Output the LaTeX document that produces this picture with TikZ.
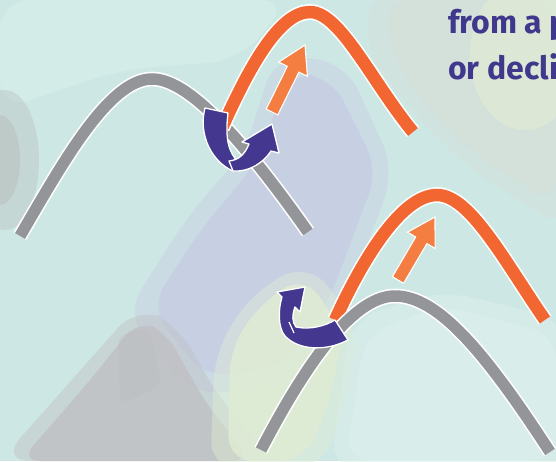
\documentclass[tikz,border=0pt]{standalone}
\usepackage{fontspec}
\setmainfont{Fira Sans}
\definecolor{bgteal}{RGB}{205,232,228}
\definecolor{bglight}{RGB}{213,237,233}
\definecolor{bglav}{RGB}{199,205,227}
\definecolor{bggray}{RGB}{192,192,196}
\definecolor{bggrayd}{RGB}{185,190,190}
\definecolor{bgyel}{RGB}{224,236,212}
\definecolor{bgtr}{RGB}{214,222,216}
\definecolor{bgpale}{RGB}{221,239,236}
\definecolor{grayband}{RGB}{147,149,152}
\definecolor{orangeband}{RGB}{242,102,49}
\definecolor{orangearrow}{RGB}{244,125,66}
\definecolor{purp}{RGB}{67,55,143}
\definecolor{txtpurp}{RGB}{64,56,140}
\tikzset{
  grayline/.style={draw=white, line width=1.6pt, double=grayband, double distance=11.5pt},
  orangeline/.style={draw=white, line width=1.6pt, double=orangeband, double distance=12.5pt},
  straightarrow/.style={fill=orangearrow, draw=white, line width=1.1pt, line join=miter},
  ribbon/.style={fill=purp, draw=white, line width=1.3pt, line join=round},
  caption/.style={anchor=base west, inner sep=0pt, text=txtpurp, font=\bfseries\fontsize{32}{32}\selectfont},
  soft/.style={opacity=0.45, rounded corners=30pt}
}
\begin{document}
\begin{tikzpicture}[x=1pt,y=-1pt]
\useasboundingbox (0,0) rectangle (556,461);
\clip (0,0) rectangle (556,461);
% background
\fill[bgteal] (0,0) rectangle (556,461);
\fill[bglight, opacity=0.8, rounded corners=30pt] (0,0) -- (290,0) -- (240,60) -- (120,70) -- (0,110) -- cycle;
\fill[bggrayd, opacity=0.4] (5,160) ellipse (34 and 70);
\fill[bggrayd, opacity=0.5] (0,160) ellipse (20 and 45);
% top right
\fill[bgtr, soft] (370,-10) -- (566,-10) -- (566,230) -- (470,170) -- (410,110) -- (365,50) -- cycle;
\fill[bgtr, opacity=0.6, rounded corners=25pt] (385,0) -- (556,0) -- (556,205) -- (475,155) -- (420,100) -- (390,50) -- cycle;
\fill[bgyel, opacity=0.7] (525,55) ellipse (55 and 75);
% lavender band
\fill[bglav, soft] (275,55) -- (345,62) -- (395,170) -- (345,305) -- (295,385) -- (190,395) -- (125,315) -- (185,220) -- (245,150) -- cycle;
\fill[bglav, opacity=0.75, rounded corners=25pt] (290,72) -- (332,78) -- (378,170) -- (330,298) -- (288,365) -- (205,378) -- (150,308) -- (200,230) -- (255,165) -- cycle;
% gray mountain
\fill[bggray, soft] (0,461) -- (85,365) -- (138,305) -- (178,325) -- (220,400) -- (275,461) -- cycle;
\fill[bggray, opacity=0.8, rounded corners=20pt] (20,461) -- (92,378) -- (138,320) -- (166,332) -- (205,402) -- (252,461) -- cycle;
\fill[bggrayd, opacity=0.35, rounded corners=10pt] (118,335) -- (150,328) -- (162,385) -- (120,405) -- cycle;
% yellow green
\fill[bgyel, soft] (215,350) -- (255,290) -- (310,262) -- (360,330) -- (345,410) -- (320,470) -- (210,470) -- cycle;
\fill[bgyel, opacity=0.8, rounded corners=25pt] (230,348) -- (262,302) -- (305,275) -- (343,332) -- (330,400) -- (305,461) -- (228,461) -- cycle;
% pale lower right
\fill[bgpale, soft] (350,320) -- (440,290) -- (566,320) -- (566,470) -- (330,470) -- cycle;
\fill[bgpale, opacity=0.6, rounded corners=25pt] (365,335) -- (440,305) -- (556,335) -- (556,461) -- (345,461) -- cycle;
% scene 1
\draw[grayline] (20,236) .. controls (60,168) and (108,79) .. (152,79) .. controls (186,79) and (236,130) .. (308,232);
\draw[orangeline] (222,128) .. controls (250,65) and (280,12) .. (310,12) .. controls (340,12) and (372,82) .. (413,132);
\filldraw[straightarrow] (266.2,109.1) -- (287.3,66.3) -- (278.7,62.1) -- (305,45) -- (307.4,76.3) -- (298.9,72.1) -- (277.8,114.9) -- cycle;
\filldraw[ribbon] (205,108) -- (228,113) .. controls (225,138) and (228,152) .. (239,163) -- (233,171) .. controls (212,162) and (198,135) .. (205,108) -- cycle;
\filldraw[ribbon] (229,161) -- (233,171) .. controls (250,172) and (264,162) .. (271,151) -- (279,153) -- (272,124) -- (242,142) -- (249,144) .. controls (245,154) and (239,160) .. (229,161) -- cycle;
% scene 2
\draw[orangeline] (335,320) .. controls (360,265) and (400,195) .. (437,195) .. controls (470,195) and (505,262) .. (545,320);
\draw[grayline] (261,450) .. controls (300,375) and (350,296) .. (395,296) .. controls (438,296) and (485,352) .. (550,452);
\filldraw[straightarrow] (392.4,276.7) -- (415.7,237.0) -- (407.5,232.2) -- (435,217) -- (435.1,248.4) -- (426.9,243.6) -- (403.6,283.3) -- cycle;
\filldraw[ribbon] (335,320) -- (348,340) .. controls (325,352) and (298,350) .. (285,336) .. controls (278,328) and (278,310) .. (282,297) -- (277,292) -- (305,287) -- (300,312) -- (295,307) .. controls (292,315) and (292,322) .. (296,327) .. controls (310,330) and (325,326) .. (335,320) -- cycle;
\draw[white, line width=1.2pt] (289,322) -- (294,333);
% text
\node[caption] (line1) at (448,33) {from a p};
\node[caption] (line2) at (448,79) {or decli};
\end{tikzpicture}
\end{document}
